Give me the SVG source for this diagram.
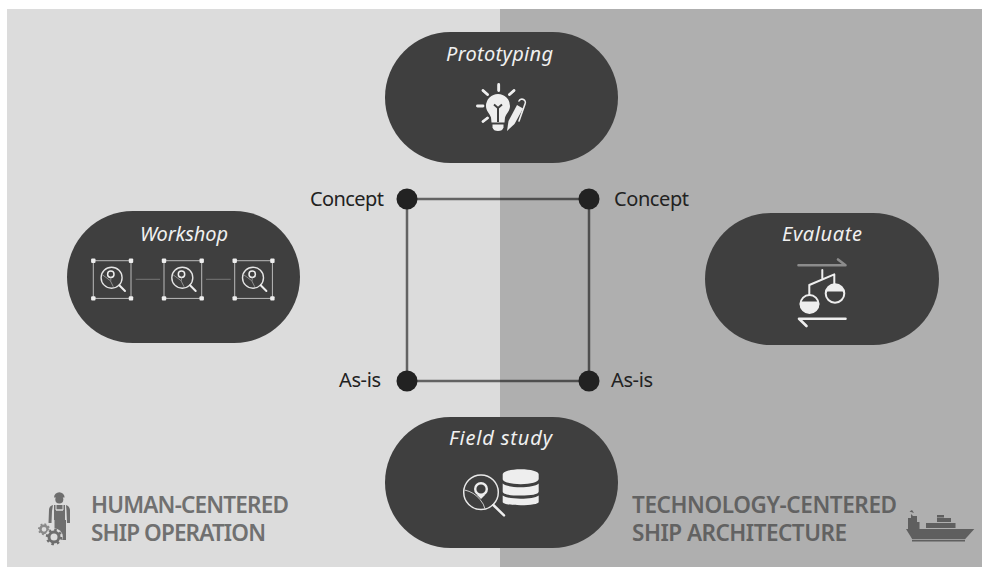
<svg xmlns="http://www.w3.org/2000/svg" width="982" height="567" viewBox="0 0 982 567">
<style>
.pill{fill:#3f3f3f}
.t{font-family:"Noto Sans","Open Sans",sans-serif;font-style:italic;font-size:20px;fill:#f0f0f0}
.c{font-family:"Noto Sans","Open Sans",sans-serif;font-size:20px;fill:#222}
.h{font-family:"Noto Sans","Open Sans",sans-serif;font-weight:600;font-size:22.500px}
.ic{fill:none;stroke:#eee;stroke-width:2;stroke-linecap:round;stroke-linejoin:round}
.fi{fill:#eee}
.edge{stroke:#000;stroke-opacity:.55;stroke-width:2.500;fill:none}
.dot{fill:#222}
</style>
<defs>
<g id="lens">
<circle cx="18.300" cy="17" r="10.500" fill="none" stroke="#e4e4e4" stroke-width="1.400"/>
<path d="M26 24.500L31.700 30.300" stroke="#eee" stroke-width="2" stroke-linecap="round"/>
<circle cx="17.500" cy="13.500" r="3.200" fill="none" stroke="#eee" stroke-width="1.500"/>
<path d="M17.500 17L17.500 20M9 14L17 20L20 26" fill="none" stroke="#999" stroke-width=".9"/>
</g>
<g id="frame">
<rect x="0" y="0" width="37.700" height="37.700" fill="none" stroke="#bbb" stroke-width="1"/>
<rect x="-2.200" y="-2.200" width="4.400" height="4.400" rx="1" class="fi"/>
<rect x="35.500" y="-2.200" width="4.400" height="4.400" rx="1" class="fi"/>
<rect x="-2.200" y="35.500" width="4.400" height="4.400" rx="1" class="fi"/>
<rect x="35.500" y="35.500" width="4.400" height="4.400" rx="1" class="fi"/>
<use href="#lens"/>
</g>
</defs>
<rect id="bg-left" x="7" y="9" width="493" height="558" fill="#dcdcdc"/>
<rect id="bg-right" x="500" y="9" width="482" height="558" fill="#afafaf"/>
<g id="connectors">
<path class="edge" d="M407 199H589V381H407Z"/>
</g>
<g id="c-tl"><circle class="dot" cx="407" cy="199" r="10.500"/><text class="c" x="384" y="206" text-anchor="end" textLength="74">Concept</text></g>
<g id="c-tr"><circle class="dot" cx="589" cy="199" r="10.500"/><text class="c" x="614" y="206" textLength="75">Concept</text></g>
<g id="a-bl"><circle class="dot" cx="407" cy="381" r="10.500"/><text class="c" x="381" y="387" text-anchor="end" textLength="42">As-is</text></g>
<g id="a-br"><circle class="dot" cx="589" cy="381" r="10.500"/><text class="c" x="611" y="387" textLength="42">As-is</text></g>
<g id="prototyping">
<rect class="pill" x="385" y="32" width="233" height="131" rx="65.500"/>
<text class="t" x="499.500" y="61" text-anchor="middle" textLength="107">Prototyping</text>
<path class="ic" stroke-width="2.500" d="M498.700 85V90.500M483 90.500L487.500 94.500M514 90.500L509.500 94.500M477.500 106H483M483 121.500L487.500 118"/>
<path class="ic" style="stroke-width:2.800" d="M498.700 84.500V90.500M483 90.500L487.500 94.500M514 90.500L509.500 94.500M477.500 106H483M483 121.500L487.500 118"/>
<path class="fi" d="M486 106a12 12 0 0 1 24 0c0 5-3.500 7-5 11.500l-.5 5h-13l-.5-5c-1.500-4.500-5-6.500-5-11.500z"/>
<path d="M498 122V108M494 104.500L498 108L502 104.500" fill="none" stroke="#3f3f3f" stroke-width="2"/>
<path class="fi" d="M492.500 124.500h11v3q-1 3.500-5.500 3.500t-5.500-3.500z"/>
<path class="fi" d="M507 131L508.500 121L517 105L523 108.500L514.500 124z"/>
<path class="ic" style="stroke-width:1.600" d="M519 101a3 3 0 0 1 6 3L519 121"/>
</g>
<g id="workshop">
<rect class="pill" x="67" y="211" width="233" height="132" rx="66"/>
<text class="t" x="184" y="240.500" text-anchor="middle" textLength="88">Workshop</text>
<use href="#frame" x="93.300" y="260.700"/>
<use href="#frame" x="164" y="260.700"/>
<use href="#frame" x="234.700" y="260.700"/>
<path d="M135.700 279.300H160M206 279.300H230.700" stroke="#777" stroke-width="1"/>
</g>
<g id="evaluate">
<rect class="pill" x="705" y="213" width="234" height="132" rx="66"/>
<text class="t" x="822" y="241" text-anchor="middle" textLength="80">Evaluate</text>
<path d="M798.500 265.300H845.500L838 259.500" fill="none" stroke="#8c8c8c" stroke-width="2.600" stroke-linecap="round" stroke-linejoin="round"/>
<path d="M845.500 318.700H799L806.500 326" fill="none" stroke="#eee" stroke-width="2.600" stroke-linecap="round" stroke-linejoin="round"/>
<path class="ic" d="M822.300 270V279M809.300 295V285L834.300 274.300V285"/>
<circle class="ic" cx="835" cy="293.500" r="9.300"/>
<path class="fi" d="M826 291.500a9.300 9.300 0 0 1 18 0z"/>
<path class="fi" d="M800 301.500h19a9.500 9.500 0 0 1-9.500 11.500a9.500 9.500 0 0 1-9.500-11.500z"/>
<circle class="ic" cx="809.500" cy="304" r="9"/>
</g>
<g id="field-study">
<rect class="pill" x="385" y="417" width="233" height="131" rx="65.500"/>
<text class="t" x="500.500" y="445" text-anchor="middle" textLength="103">Field study</text>
<circle cx="481" cy="492.300" r="17.300" fill="none" stroke="#e8e8e8" stroke-width="1.500"/>
<path d="M493.300 505L504 515.300" stroke="#eee" stroke-width="2.500" stroke-linecap="round"/>
<circle cx="481" cy="489" r="5.800" fill="none" stroke="#eee" stroke-width="2.400"/>
<path class="fi" d="M477 495h8l-4 4z"/>
<path d="M464.500 490Q474 492 480 499.500Q484 504 485 509" fill="none" stroke="#ccc" stroke-width="1"/>
<path class="fi" d="M502.700 474.500c0-3 8-5.200 18-5.200s18 2.200 18 5.200v4.500c0 3-8 5.200-18 5.200s-18-2.200-18-5.200z"/>
<path class="fi" d="M502.700 483.500c3 2.500 10 3.700 18 3.700s15-1.200 18-3.700v8c0 3-8 4-18 4s-18-1-18-4z"/>
<path class="fi" d="M502.700 495.500c3 2.300 10 3.200 18 3.200s15-.9 18-3.200v6.500c0 2-8 3.200-18 3.200s-18-1.200-18-3.200z"/>
</g>
<g id="label-human">
<text class="h" x="91" y="513" fill="#707070" textLength="198">HUMAN-CENTERED</text>
<text class="h" x="91" y="541" fill="#707070" textLength="175">SHIP OPERATION</text>
<g fill="#6e6e6e">
<path d="M54 497.500a5.300 5.300 0 0 1 10.600 0z"/>
<circle cx="59.300" cy="499.500" r="4"/>
<path d="M54 505H65V520H66V540H54.500V520H54Z"/>
<path d="M53 505Q49 506 49 510L48.500 523H51.500L52 511ZM66 505Q69.500 506 70 510L70 523H67L66.500 511Z"/>
</g>
<path d="M56 505V510H63V505M56 510H63" fill="none" stroke="#dcdcdc" stroke-width="1"/>
<circle cx="44" cy="529.300" r="3.600" fill="none" stroke="#8a8a8a" stroke-width="2.500"/>
<circle cx="44" cy="529.300" r="5" fill="none" stroke="#8a8a8a" stroke-width="2" stroke-dasharray="1.800 2.100"/>
<circle cx="54" cy="537" r="8.800" fill="#dcdcdc"/>
<circle cx="54" cy="537" r="5" fill="none" stroke="#6e6e6e" stroke-width="3"/>
<circle cx="54" cy="537" r="7" fill="none" stroke="#6e6e6e" stroke-width="2.500" stroke-dasharray="2.500 3"/>
</g>
<g id="label-tech">
<text class="h" x="632" y="513" fill="#626262" textLength="265">TECHNOLOGY-CENTERED</text>
<text class="h" x="632" y="541" fill="#626262" textLength="215">SHIP ARCHITECTURE</text>
<g fill="#5f5f5f">
<path d="M906 529H974.300L965 539.300H912.300Z"/>
<rect x="912" y="540" width="53" height="1.500"/>
<path d="M908 529V518H911V514L913 516H917V522H919.500V529Z"/>
<path d="M914 513L909.500 511.500L912 510Z"/>
<rect x="926" y="523" width="29.500" height="5"/>
<rect x="937" y="518" width="14" height="4"/>
<rect x="937" y="515" width="7" height="2.500"/>
</g>
</g>
</svg>
